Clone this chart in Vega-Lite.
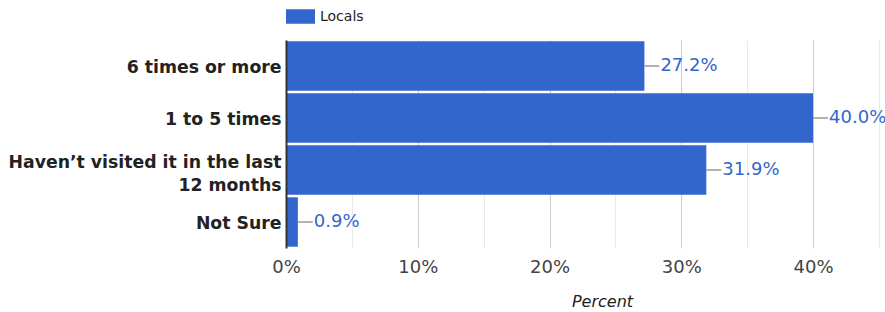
{
  "$schema": "https://vega.github.io/schema/vega-lite/v6.json",
  "autosize": {"type": "none"},
  "padding": {"left": 286, "top": 40, "right": 0, "bottom": 64},
  "width": 599,
  "height": 208,
  "background": "white",
  "config": {
    "font": "DejaVu Sans",
    "view": {"stroke": null}
  },
  "data": {
    "values": [
      {"category": "6 times or more", "series": "Locals", "pct": 0.272},
      {"category": "1 to 5 times", "series": "Locals", "pct": 0.400},
      {"category": "Haven’t visited it in the last 12 months", "series": "Locals", "pct": 0.319},
      {"category": "Not Sure", "series": "Locals", "pct": 0.009}
    ]
  },
  "encoding": {
    "y": {
      "field": "category",
      "type": "nominal",
      "sort": null,
      "title": null,
      "scale": {"paddingInner": 0.05, "paddingOuter": 0.025},
      "axis": {
        "zindex": 1,
        "domain": true,
        "domainColor": "#333333",
        "domainWidth": 2,
        "ticks": false,
        "grid": false,
        "labelFontSize": 17.3,
        "labelFontWeight": "bold",
        "labelColor": "#222222",
        "labelPadding": 5,
        "labelLimit": 0,
        "labelLineHeight": 22.7,
        "labelOffset": {"condition": {"test": "datum.value == 'Haven’t visited it in the last 12 months'", "value": -7}, "value": 1.5},
        "labelExpr": "datum.value == 'Haven’t visited it in the last 12 months' ? ['Haven’t visited it in the last', '12 months'] : datum.value"
      }
    }
  },
  "layer": [
    {
      "mark": {"type": "bar"},
      "encoding": {
        "x": {
          "field": "pct",
          "type": "quantitative",
          "scale": {"domain": [0, 0.4546], "nice": false, "zero": true},
          "axis": {
            "values": [0, 0.05, 0.1, 0.15, 0.2, 0.25, 0.3, 0.35, 0.4, 0.45],
            "domain": false,
            "ticks": false,
            "grid": true,
            "gridColor": {"condition": {"test": "round(datum.value * 100) % 10 == 0", "value": "#cccccc"}, "value": "#ebebeb"},
            "labelExpr": "round(datum.value * 100) % 10 == 0 ? format(datum.value, '.0%') : ''",
            "labelFlush": false,
            "labelOverlap": false,
            "labelFontSize": 18,
            "labelColor": "#444444",
            "labelPadding": 10,
            "title": "Percent",
            "titleFontSize": 16,
            "titleFontStyle": "italic",
            "titleFontWeight": "normal",
            "titleColor": "#222222",
            "titleX": 316,
            "titleY": 58,
            "titleAlign": "center",
            "titleBaseline": "alphabetic"
          }
        },
        "color": {
          "field": "series",
          "type": "nominal",
          "scale": {"range": ["#3366cc"]},
          "legend": {
            "title": null,
            "orient": "none",
            "legendX": 0,
            "legendY": -38,
            "symbolType": "M-1,-0.5H1V0.5H-1Z",
            "symbolSize": 841,
            "symbolStrokeWidth": 0,
            "symbolOpacity": 1,
            "labelFontSize": 14,
            "labelColor": "#222222",
            "labelOffset": 5
          }
        }
      }
    },
    {
      "mark": {"type": "rule", "x2Offset": 15, "color": "#999999", "strokeWidth": 1.5},
      "encoding": {
        "x": {"field": "pct", "type": "quantitative"},
        "x2": {"field": "pct"}
      }
    },
    {
      "mark": {"type": "text", "align": "left", "baseline": "middle", "dx": 16, "fontSize": 18, "color": "#3366cc"},
      "encoding": {
        "x": {"field": "pct", "type": "quantitative"},
        "text": {"field": "pct", "type": "quantitative", "format": ".1%"}
      }
    }
  ]
}
